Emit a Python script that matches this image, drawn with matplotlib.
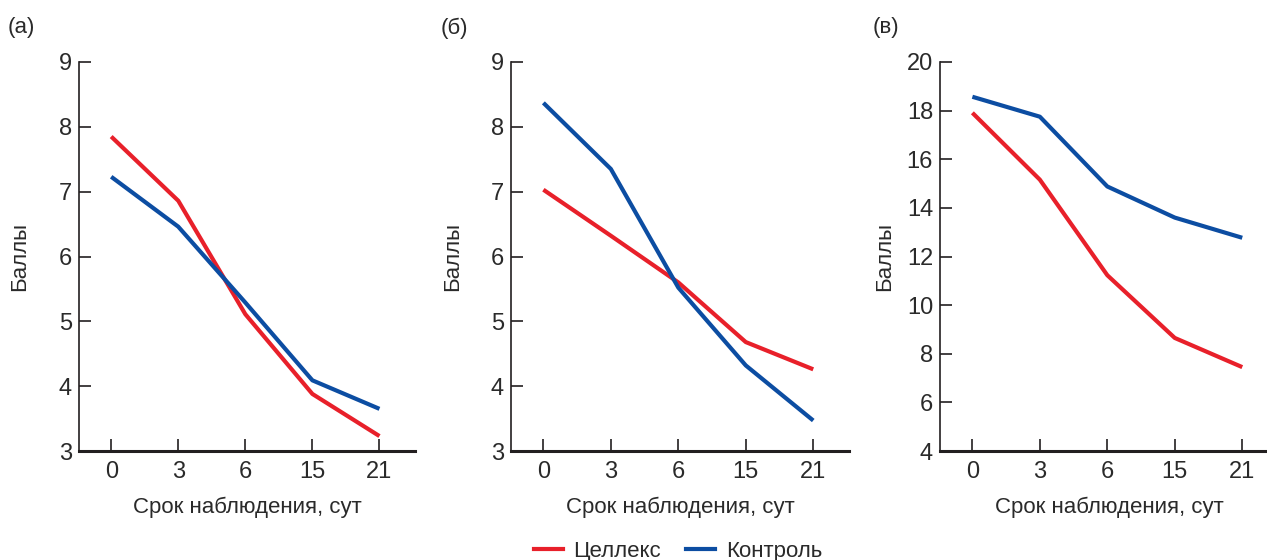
import matplotlib.pyplot as plt
from matplotlib.lines import Line2D

plt.rcParams['font.family'] = ['Liberation Sans Narrow', 'Liberation Sans', 'DejaVu Sans']

days = ['0', '3', '6', '15', '21']

a_cellex = [7.85, 6.86, 5.11, 3.88, 3.23]
a_control = [7.23, 6.46, 5.29, 4.09, 3.65]

b_cellex = [7.03, 6.32, 5.60, 4.68, 4.26]
b_control = [8.37, 7.35, 5.52, 4.32, 3.47]

c_cellex = [17.91, 15.16, 11.23, 8.65, 7.45]
c_control = [18.57, 17.75, 14.88, 13.6, 12.77]

panel_names = ['(а)', '(б)', '(в)']
y_limits = [(3, 9), (3, 9), (4, 20)]
y_ticks = [range(3, 10), range(3, 10), range(4, 21, 2)]

red = '#e8202a'
blue = '#0c4da2'
ink = '#231f20'

W, H = 1267, 560
fig = plt.figure(figsize=(W / 100, H / 100), dpi=100)

# pixel boxes (left, right) for each panel
boxes = [(79, 415), (511, 849), (940, 1278)]
top, bottom = 62, 451
label_x = [8, 441, 873]

series = [(a_cellex, a_control), (b_cellex, b_control), (c_cellex, c_control)]

for i, (l, r) in enumerate(boxes):
    ax = fig.add_axes([l / W, 1 - bottom / H, (r - l) / W, (bottom - top) / H])
    x = range(len(days))
    ax.plot(x, series[i][0], color=red, lw=3, solid_capstyle='butt', clip_on=False)
    ax.plot(x, series[i][1], color=blue, lw=3, solid_capstyle='butt', clip_on=False)
    ax.set_xlim(-0.48, 4.53)
    ax.set_ylim(*y_limits[i])
    ax.set_yticks(list(y_ticks[i]))
    ax.set_xticks(list(x))
    ax.set_xticklabels(days)
    for s in ['top', 'right']:
        ax.spines[s].set_visible(False)
    ax.spines['left'].set_linewidth(1.2)
    ax.spines['bottom'].set_linewidth(2.2)
    ax.spines['left'].set_color(ink)
    ax.spines['bottom'].set_color(ink)
    ax.tick_params(direction='in', length=8.5, width=1.2, colors=ink,
                   labelsize=17, labelcolor='#2a2a2a')
    ax.tick_params(axis='y', pad=5)
    ax.tick_params(axis='x', pad=7)
    ax.set_xlabel('Срок наблюдения, сут', fontsize=16, color='#2a2a2a', labelpad=10)
    ax.set_ylabel('Баллы', fontsize=16, color='#2a2a2a')
    ax.yaxis.set_label_coords((label_x[i] + 22 - l) / (r - l), 0.5)
    fig.text(label_x[i] / W, 1 - 28 / H, panel_names[i], fontsize=16,
             color='#2a2a2a', va='center', ha='left')

handles = [Line2D([], [], color=red, lw=3), Line2D([], [], color=blue, lw=3)]
fig.legend(handles, ['Целлекс', 'Контроль'], loc='center',
           bbox_to_anchor=(0.535, 1 - 551 / H), ncol=2, frameon=False,
           fontsize=16, handlelength=1.3, columnspacing=1.1, handletextpad=0.5,
           labelcolor='#2a2a2a')

fig.savefig('out.png', dpi=100)
